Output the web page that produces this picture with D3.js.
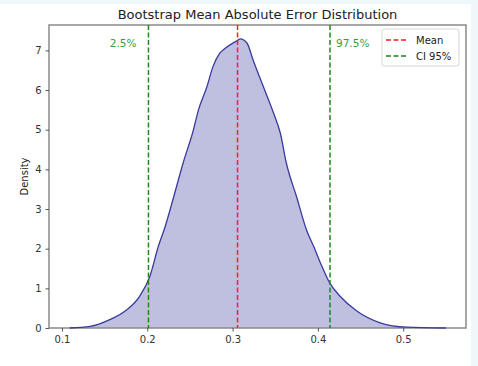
<!DOCTYPE html>
<html>
<head>
<meta charset="utf-8">
<script src="https://cdn.jsdelivr.net/npm/d3@7"></script>
<style>
  body { margin: 0; background: #eef7f9; }
  svg { display: block; font-family: "DejaVu Sans", sans-serif; }
</style>
</head>
<body>
<div id="chart"></div>
<script>
// KDE curve
const kdeX = [0.109, 0.133, 0.156, 0.176, 0.191, 0.203, 0.213, 0.221, 0.231, 0.242, 0.254, 0.260, 0.270, 0.277, 0.285, 0.291, 0.305, 0.309, 0.317, 0.324, 0.336, 0.348, 0.356, 0.363, 0.375, 0.387, 0.395, 0.403, 0.414, 0.426, 0.446, 0.473, 0.504, 0.550];
const kdeY = [0.00, 0.04, 0.21, 0.46, 0.80, 1.30, 2.06, 2.56, 3.31, 4.16, 4.99, 5.50, 6.09, 6.59, 6.93, 7.05, 7.24, 7.29, 7.18, 6.76, 6.09, 5.42, 4.91, 4.16, 3.31, 2.45, 2.06, 1.64, 1.13, 0.80, 0.42, 0.13, 0.02, 0.00];

const xTicks = [0.1, 0.2, 0.3, 0.4, 0.5];
const yTicks = [0, 1, 2, 3, 4, 5, 6, 7];

const meanValue = 0.3058;
const ciLow = 0.2014;
const ciHigh = 0.4142;

const W = 478, H = 366;
const plot = { left: 49, right: 466, top: 25, bottom: 328 };

const svg = d3.select("#chart").append("svg")
    .attr("width", W)
    .attr("height", H);

// white figure area
svg.append("rect")
    .attr("x", 0).attr("y", 4)
    .attr("width", 471).attr("height", H - 4)
    .attr("fill", "#fff");

const x = d3.scaleLinear()
    .domain([0.0848, 0.5736])
    .range([plot.left, plot.right]);

const y = d3.scaleLinear()
    .domain([0, 7.64])
    .range([plot.bottom, plot.top]);

const pts = kdeX.map((v, i) => [v, kdeY[i]]);

// filled density
svg.append("path")
    .datum(pts)
    .attr("fill", "#bfbfdf")
    .attr("d", d3.area()
        .x(d => x(d[0]))
        .y0(y(0))
        .y1(d => y(d[1]))
        .curve(d3.curveMonotoneX));

// vertical reference lines
const vlines = [
    { v: meanValue, color: "#ff2020" },
    { v: ciLow, color: "#1a8a1a" },
    { v: ciHigh, color: "#1a8a1a" }
];

// spines
svg.append("rect")
    .attr("x", plot.left).attr("y", plot.top)
    .attr("width", plot.right - plot.left)
    .attr("height", plot.bottom - plot.top)
    .attr("fill", "none")
    .attr("stroke", "#8a8a8a")
    .attr("stroke-width", 1.5);

svg.append("path")
    .datum(pts)
    .attr("fill", "none")
    .attr("stroke", "#3a3a9e")
    .attr("stroke-width", 1.3)
    .attr("d", d3.line()
        .x(d => x(d[0]))
        .y(d => y(d[1]))
        .curve(d3.curveMonotoneX));

svg.selectAll(".vline")
    .data(vlines)
    .join("line")
    .attr("class", "vline")
    .attr("x1", d => x(d.v)).attr("x2", d => x(d.v))
    .attr("y1", plot.top).attr("y2", plot.bottom)
    .attr("stroke", d => d.color)
    .attr("stroke-width", 1.5)
    .attr("stroke-dasharray", "5,2.5");

svg.append("text")
    .attr("x", x(ciLow) - 12)
    .attr("y", 47)
    .attr("text-anchor", "end")
    .attr("fill", "#3aa03a")
    .attr("font-size", 10.5)
    .text("2.5%");

svg.append("text")
    .attr("x", x(ciHigh) + 6)
    .attr("y", 47)
    .attr("fill", "#3aa03a")
    .attr("font-size", 10.5)
    .text("97.5%");

// axes
const xAxis = svg.append("g")
    .attr("transform", `translate(0,${plot.bottom})`)
    .call(d3.axisBottom(x).tickValues(xTicks).tickSize(3.5).tickPadding(4).tickFormat(d3.format(".1f")));

const yAxis = svg.append("g")
    .attr("transform", `translate(${plot.left},0)`)
    .call(d3.axisLeft(y).tickValues(yTicks).tickSize(3.5).tickPadding(4));

[xAxis, yAxis].forEach(g => {
    g.select(".domain").remove();
    g.selectAll(".tick line").attr("stroke", "#444").attr("stroke-width", 0.9);
    g.selectAll(".tick text")
        .attr("fill", "#333")
        .attr("font-size", 10)
        .attr("font-family", "DejaVu Sans, sans-serif");
});

// title and label
svg.append("text")
    .attr("x", (plot.left + plot.right) / 2)
    .attr("y", 19)
    .attr("text-anchor", "middle")
    .attr("fill", "#222")
    .attr("font-size", 13)
    .text("Bootstrap Mean Absolute Error Distribution");

svg.append("text")
    .attr("transform", `translate(28,${(plot.top + plot.bottom) / 2}) rotate(-90)`)
    .attr("text-anchor", "middle")
    .attr("fill", "#222")
    .attr("font-size", 10)
    .text("Density");

// legend
const legendItems = [
    { name: "Mean", color: "#ff2020" },
    { name: "CI 95%", color: "#1a8a1a" }
];
const legend = svg.append("g")
    .attr("transform", "translate(382,29)");

legend.append("rect")
    .attr("width", 77).attr("height", 37)
    .attr("rx", 2.5)
    .attr("fill", "#fff")
    .attr("stroke", "#d6d6d6")
    .attr("stroke-width", 1);

const item = legend.selectAll(".item")
    .data(legendItems)
    .join("g")
    .attr("class", "item")
    .attr("transform", (d, i) => `translate(0,${11 + i * 16})`);

item.append("line")
    .attr("x1", 4).attr("x2", 26)
    .attr("stroke", d => d.color)
    .attr("stroke-width", 1.5)
    .attr("stroke-dasharray", "5,2.5");

item.append("text")
    .attr("x", 34)
    .attr("dy", "0.35em")
    .attr("fill", "#222")
    .attr("font-size", 10)
    .text(d => d.name);
</script>
</body>
</html>
